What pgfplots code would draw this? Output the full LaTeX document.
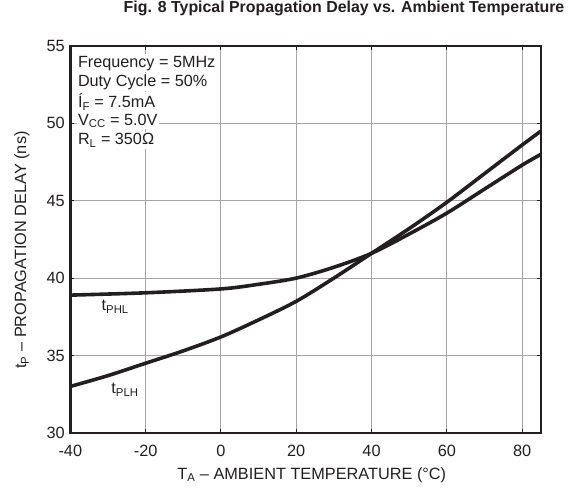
\documentclass[border=0pt]{standalone}
\usepackage{fontspec}
\setmainfont{Liberation Sans}
\usepackage{pgfplots}
\pgfplotsset{compat=1.18}
\definecolor{curve}{RGB}{35,31,32}
\definecolor{gridc}{RGB}{165,165,165}
\begin{document}
\begin{tikzpicture}
\begin{axis}[
  name=ax,
  scale only axis,
  width=470.7pt, height=387pt,
  xmin=-40, xmax=85, ymin=30, ymax=55,
  xtick={-40,-20,0,20,40,60,80},
  ytick={30,35,40,45,50,55},
  grid=major,
  major grid style={draw=gridc, line width=1pt},
  axis line style={line width=2.6pt, draw=curve},
  tick style={draw=curve, line width=1pt},
  major tick length=4pt,
  tick align=inside,
  /pgf/number format/assume math mode=true,
  tick label style={font=\fontsize{16.3}{19}\selectfont, text=curve},
  xticklabel style={yshift=-9pt},
  yticklabel style={xshift=-2pt},
  label style={font=\fontsize{16.3}{19}\selectfont, text=curve},
  xlabel={T\textsubscript{A} – AMBIENT TEMPERATURE (°C)},
  xlabel style={at={(axis description cs:0.513,-0.1088)}, anchor=center},
  ylabel={t\textsubscript{P} – PROPAGATION DELAY (ns)},
  ylabel style={at={(axis description cs:-0.1026,0.4726)}, anchor=center},
  title={\textbf{Fig. 8 Typical Propagation Delay vs. Ambient Temperature}},
  title style={font=\fontsize{15.9}{19}\selectfont, text=curve, at={(axis description cs:0.5815,1.0824)}, anchor=center},
  clip=false,
]
% tPHL
\addplot[curve, line width=3.6pt, smooth, tension=0.5] coordinates {
  (-40,38.9) (-20,39.05) (0,39.3) (10,39.6) (20,40.0) (30,40.7) (40,41.6)
  (50,42.85) (60,44.2) (70,45.75) (80,47.3) (85,48.0)};
% tPLH
\addplot[curve, line width=3.6pt, smooth, tension=0.5] coordinates {
  (-40,33.0) (-30,33.7) (-20,34.5) (-10,35.3) (0,36.2) (10,37.3) (20,38.5)
  (30,40.0) (40,41.6) (50,43.2) (60,44.9) (70,46.75) (80,48.6) (85,49.5)};
\coordinate (l1) at (axis cs:-38.4,53.88);
\coordinate (l2) at (axis cs:-38.4,52.64);
\coordinate (l3) at (axis cs:-38.4,51.39);
\coordinate (l4) at (axis cs:-38.4,50.15);
\coordinate (l5) at (axis cs:-38.4,48.90);
\coordinate (phl) at (axis cs:-32.6,38.15);
\coordinate (plh) at (axis cs:-30.0,32.77);
\end{axis}
\begin{scope}[every node/.style={font=\fontsize{16.2}{19}\selectfont, text=curve, fill=white, inner sep=1.5pt, anchor=west}]
  \node at (l1) {Frequency = 5MHz};
  \node at (l2) {Duty Cycle = 50\%};
  \node at (l3) {Í\textsubscript{F} = 7.5mA};
  \node at (l4) {V\textsubscript{CC} = 5.0V};
  \node at (l5) {R\textsubscript{L} = 350Ω};
\end{scope}
\node[font=\fontsize{16.2}{19}\selectfont, text=curve, anchor=west] at (phl) {t\textsubscript{PHL}};
\node[font=\fontsize{16.2}{19}\selectfont, text=curve, anchor=west] at (plh) {t\textsubscript{PLH}};
\pgfresetboundingbox
\path (ax.south west) ++(-70.3pt,-56.1pt) rectangle ++(570pt,489pt);
\end{tikzpicture}
\end{document}
